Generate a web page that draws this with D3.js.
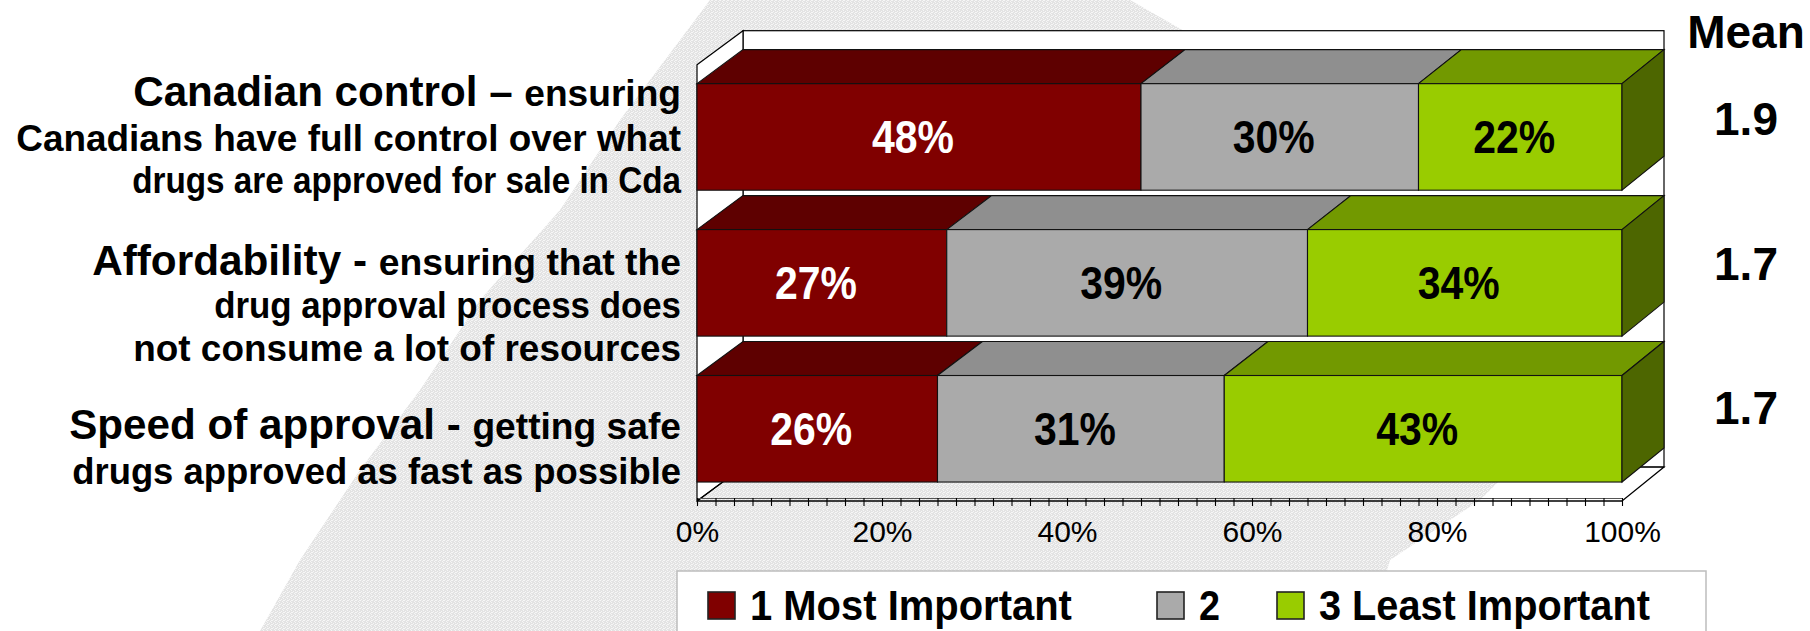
<!DOCTYPE html>
<html>
<head>
<meta charset="utf-8">
<script src="https://cdn.jsdelivr.net/npm/d3@7"></script>
<style>
  html, body { margin: 0; padding: 0; background: #ffffff; }
  svg { display: block; }
  text { font-family: "Liberation Sans", Arial, sans-serif; }
</style>
</head>
<body>
<svg id="chart" width="1810" height="631"></svg>
<script>
// ---- data ----
const categories = ["Canadian control", "Affordability", "Speed of approval"];
const seriesNames = ["1 Most Important", "2", "3 Least Important"];
const mostImportant = [48, 27, 26];
const secondRank = [30, 39, 31];
const leastImportant = [22, 34, 43];
const meanScores = ["1.9", "1.7", "1.7"];
const tickValues = [0, 20, 40, 60, 80, 100];
const labelHeads = ["Canadian control \u2013 ", "Affordability - ", "Speed of approval - "];
const labelLines = [
  ["ensuring", "Canadians have full control over what", "drugs are approved for sale in Cda"],
  ["ensuring that the", "drug approval process does", "not consume a lot of resources"],
  ["getting safe", "drugs approved as fast as possible"]
];

// ---- layout ----
const W = 1810, H = 631;
const colors = {
  front: ["#800000", "#aaaaaa", "#99cc00"],
  top:   ["#5e0000", "#8f8f8f", "#729900"],
  side:  ["#400000", "#707070", "#4d6600"]
};
const depthY = 34;
const svg = d3.select("#chart");

const xFront = d3.scaleLinear().domain([0, 100]).range([697, 1622]);
const xBack  = d3.scaleLinear().domain([0, 100]).range([743, 1664]);
const yBand  = d3.scaleBand().domain(categories).range([64.7, 501]).paddingInner(0.27).paddingOuter(0.13);
const floorY = 501, wallTop = 30.7;

// background watermark shape with a fine grain
const defs = svg.append("defs");
const pat = defs.append("pattern").attr("id", "grain").attr("width", 4).attr("height", 4)
  .attr("patternUnits", "userSpaceOnUse");
pat.append("rect").attr("width", 4).attr("height", 4).attr("fill", "#e3e3e3");
[[0,0],[2,1],[1,3],[3,2],[3,0]].forEach(([a,b]) =>
  pat.append("rect").attr("x", a).attr("y", b).attr("width", 1).attr("height", 1).attr("fill", "#f6f6f6"));

svg.append("rect").attr("width", W).attr("height", H).attr("fill", "#ffffff");
const leaf = [[260,631],[300,560],[360,470],[420,390],[480,300],[560,210],[620,120],[680,40],[710,0],
              [1130,0],[1200,40],[1500,250],[1560,420],[1480,500],[1390,560],[1370,631]];
svg.append("path").attr("d", d3.line()(leaf) + "Z").attr("fill", "url(#grain)");

// ---- walls and floor ----
const g = svg.append("g");
g.append("rect")
  .attr("x", xBack(0)).attr("y", wallTop)
  .attr("width", xBack(100) - xBack(0)).attr("height", floorY - depthY - wallTop)
  .attr("fill", "#ffffff").attr("stroke", "#000").attr("stroke-width", 1.2);
g.append("path")
  .attr("d", d3.line()([[xFront(0), wallTop + depthY], [xBack(0), wallTop], [xBack(0), floorY - depthY], [xFront(0), floorY]]) + "Z")
  .attr("fill", "#ffffff").attr("stroke", "#000").attr("stroke-width", 1.2);
g.append("path")
  .attr("d", d3.line()([[xFront(0), floorY], [xBack(0), floorY - depthY], [xBack(100), floorY - depthY], [xFront(100), floorY]]))
  .attr("fill", "none").attr("stroke", "#000").attr("stroke-width", 1.2);

// ---- stacked 3D bars ----
const series = [mostImportant, secondRank, leastImportant];
const rows = categories.map((c, i) => {
  let acc = 0;
  return series.map((s, k) => {
    const seg = { cat: c, k, v: s[i], x0: acc, x1: acc + s[i] };
    acc += s[i];
    return seg;
  });
});

const bars = g.selectAll("g.bar").data(rows).join("g").attr("class", "bar");
bars.each(function(segs) {
  const sel = d3.select(this);
  const yT = yBand(segs[0].cat), yB = yT + yBand.bandwidth();
  // top faces
  sel.selectAll("path.top").data(segs).join("path").attr("class", "top")
    .attr("d", d => d3.line()([[xFront(d.x0), yT], [xFront(d.x1), yT], [xBack(d.x1), yT - depthY], [xBack(d.x0), yT - depthY]]) + "Z")
    .attr("fill", d => colors.top[d.k]).attr("stroke", "#111").attr("stroke-width", 1.1);
  // front faces
  sel.selectAll("rect.front").data(segs).join("rect").attr("class", "front")
    .attr("x", d => xFront(d.x0)).attr("y", yT)
    .attr("width", d => xFront(d.x1) - xFront(d.x0)).attr("height", yB - yT)
    .attr("fill", d => colors.front[d.k]).attr("stroke", "#111").attr("stroke-width", 1.1);
  // right end face
  const last = segs[segs.length - 1];
  sel.append("path")
    .attr("d", d3.line()([[xFront(last.x1), yT], [xBack(last.x1), yT - depthY], [xBack(last.x1), yB - depthY], [xFront(last.x1), yB]]) + "Z")
    .attr("fill", colors.side[last.k]).attr("stroke", "#111").attr("stroke-width", 1.1);
  // value labels
  sel.selectAll("text.val").data(segs).join("text").attr("class", "val")
    .attr("transform", d => `translate(${(xFront(d.x0) + xFront(d.x1)) / 2 - 6},${(yT + yB) / 2 + 16}) scale(0.89,1)`)
    .attr("text-anchor", "middle")
    .attr("font-size", 46).attr("font-weight", "bold")
    .attr("fill", d => d.k === 0 ? "#ffffff" : "#000000")
    .text(d => d.v + "%");
});

// ---- x axis ----
const minorAxis = d3.axisBottom(xFront).tickValues(d3.range(0, 101, 2)).tickSize(8).tickSizeOuter(0).tickFormat("");
const axG = svg.append("g").attr("transform", `translate(0,${floorY - 3})`).call(minorAxis);
axG.select(".domain").attr("stroke", "#555").attr("stroke-width", 1.2);
axG.selectAll(".tick line").attr("stroke", "#000").attr("stroke-width", 1.1);
svg.append("line").attr("x1", xFront(0)).attr("x2", xFront(100)).attr("y1", floorY).attr("y2", floorY)
  .attr("stroke", "#000").attr("stroke-width", 1.3);

const labelAxis = d3.axisBottom(xFront).tickValues(tickValues).tickSize(0).tickPadding(20).tickFormat(d => d + "%");
const lbG = svg.append("g").attr("transform", `translate(0,${floorY})`).call(labelAxis);
lbG.select(".domain").remove();
lbG.selectAll("text").attr("font-size", 30).attr("fill", "#000")
  .attr("font-family", "'Liberation Sans', Arial, sans-serif");

// ---- category labels (right-aligned, fitted to line width) ----
function fitLine(textSel, x, y, width) {
  const w = textSel.node().getComputedTextLength();
  textSel.attr("transform", `translate(${x},${y}) scale(${width / w},1)`);
}
const labelRight = 681;
const lineOffsets = [[-31, 14, 56], [-7.5, 35.5, 78.5], [10, 55]];
const lineWidths = [[548, 665, 549], [589, 467, 548], [612, 609]];
categories.forEach((c, i) => {
  const cy = yBand(c) + yBand.bandwidth() / 2;
  labelLines[i].forEach((line, j) => {
    const t = svg.append("text").attr("text-anchor", "end").attr("font-weight", "bold").attr("fill", "#000");
    if (j === 0) {
      t.append("tspan").attr("font-size", 42).text(labelHeads[i]);
      t.append("tspan").attr("font-size", 37).text(line);
    } else {
      t.attr("font-size", 37).text(line);
    }
    fitLine(t, labelRight, cy + lineOffsets[i][j], lineWidths[i][j]);
  });
});

// ---- mean column ----
const meanX = 1746;
svg.append("text").attr("x", meanX).attr("y", 48).attr("text-anchor", "middle")
  .attr("font-size", 46).attr("font-weight", "bold").attr("fill", "#000").text("Mean");
svg.selectAll("text.mean").data(meanScores).join("text").attr("class", "mean")
  .attr("x", meanX)
  .attr("y", (d, i) => yBand(categories[i]) + yBand.bandwidth() / 2 - 1.5 - 5 * i * 0.3)
  .attr("text-anchor", "middle")
  .attr("font-size", 46).attr("font-weight", "bold").attr("fill", "#000")
  .text(d => d);

// ---- legend ----
const lg = svg.append("g");
lg.append("rect").attr("x", 677).attr("y", 571).attr("width", 1029).attr("height", 80)
  .attr("fill", "#ffffff").attr("stroke", "#bdbdbd").attr("stroke-width", 1.5);
const legendSwatchX = [708, 1157, 1277];
const legendTextW = [322, 21, 331];
seriesNames.forEach((name, k) => {
  lg.append("rect").attr("x", legendSwatchX[k]).attr("y", 592).attr("width", 27).attr("height", 27)
    .attr("fill", colors.front[k]).attr("stroke", "#222").attr("stroke-width", 1.6);
  const t = lg.append("text").attr("font-size", 42).attr("font-weight", "bold").attr("fill", "#000").text(name);
  const w = t.node().getComputedTextLength();
  t.attr("transform", `translate(${legendSwatchX[k] + 42},620) scale(${legendTextW[k] / w},1)`);
});
</script>
</body>
</html>
